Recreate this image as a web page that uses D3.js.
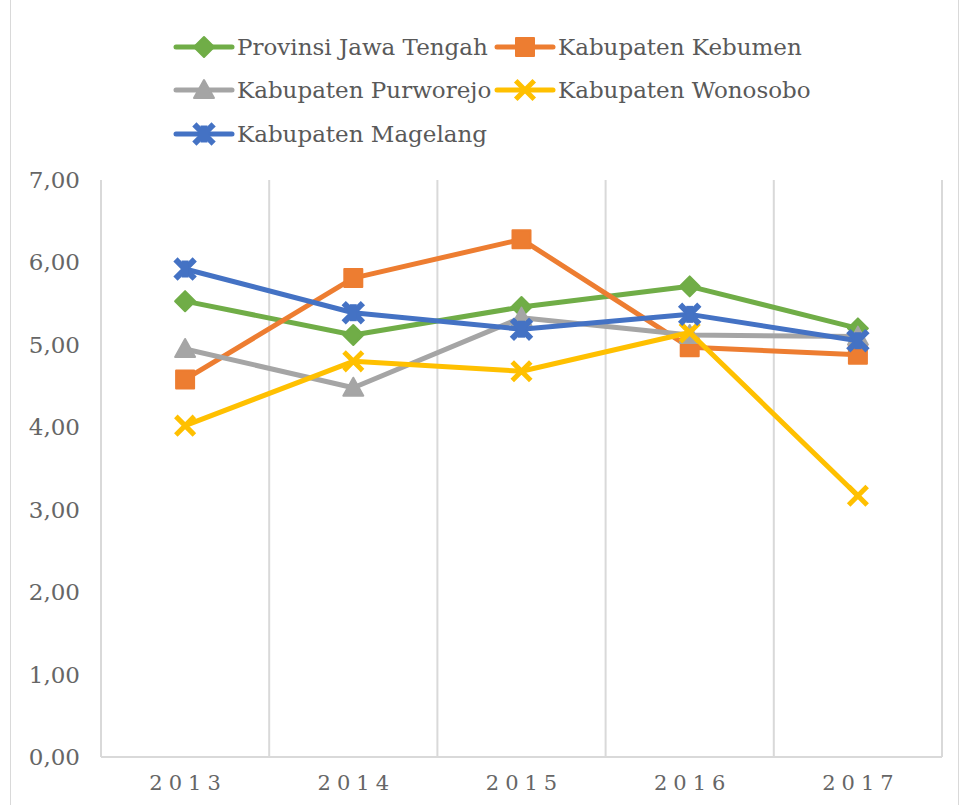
<!DOCTYPE html>
<html>
<head>
<meta charset="utf-8">
<script src="https://cdn.jsdelivr.net/npm/d3@7"></script>
<style>
  body { margin: 0; background: #fff; }
  text { font-family: "DejaVu Serif", serif; fill: #595959; }
</style>
</head>
<body>
<div id="chart"></div>
<script>
// Line chart: five regions 2013-2017 ////////////////////////////////////////

var years = ['2013', '2014', '2015', '2016', '2017'];
var seriesNames = ['Provinsi Jawa Tengah', 'Kabupaten Kebumen', 'Kabupaten Purworejo',
                   'Kabupaten Wonosobo', 'Kabupaten Magelang'];
var jawaTengah = [5.53, 5.12, 5.46, 5.71, 5.20];
var kebumen    = [4.58, 5.81, 6.28, 4.97, 4.88];
var purworejo  = [4.95, 4.48, 5.33, 5.12, 5.10];
var wonosobo   = [4.02, 4.80, 4.68, 5.15, 3.17];
var magelang   = [5.92, 5.39, 5.19, 5.37, 5.05];
var yTicks = [0, 1, 2, 3, 4, 5, 6, 7];

///////////////////////////////////////////////////////////////////////////////

var width = 963;
var height = 805;
var margin = {left: 101, right: 21, top: 180, bottom: 48};
var colors = ['#70AD47', '#ED7D31', '#A5A5A5', '#FFC000', '#4472C4'];
var markers = ['diamond', 'square', 'triangle', 'x', 'star'];

var series = [jawaTengah, kebumen, purworejo, wonosobo, magelang].map(function(v, i){
  return {name: seriesNames[i], values: v, color: colors[i], marker: markers[i]};
});

var svg = d3.select('#chart').append('svg')
  .attr('width', width)
  .attr('height', height);

// chart border
svg.append('rect')
  .attr('x', 10.5).attr('y', -2)
  .attr('width', 948).attr('height', height + 4)
  .style('fill', 'none')
  .style('stroke', '#d9d9d9');

var x = d3.scaleBand()
  .domain(years)
  .range([margin.left, width - margin.right]);

var y = d3.scaleLinear()
  .domain([0, 7])
  .range([height - margin.bottom, margin.top]);

///////////////////////////////////////////////////////////////////////////////

// vertical gridlines at category boundaries
var bounds = years.map(function(d){ return x(d); }).concat([x.range()[1]]);
svg.append('g').selectAll('line')
  .data(bounds)
  .enter().append('line')
  .attr('x1', function(d){ return d; })
  .attr('x2', function(d){ return d; })
  .attr('y1', y(7))
  .attr('y2', y(0))
  .style('stroke', '#d9d9d9')
  .style('stroke-width', 2);

// bottom axis line
svg.append('line')
  .attr('x1', x.range()[0]).attr('x2', x.range()[1])
  .attr('y1', y(0)).attr('y2', y(0))
  .style('stroke', '#d9d9d9')
  .style('stroke-width', 2);

// y tick labels
svg.append('g').selectAll('text')
  .data(yTicks)
  .enter().append('text')
  .attr('x', 80)
  .attr('y', function(d){ return y(d); })
  .attr('dy', '0.35em')
  .attr('text-anchor', 'end')
  .style('font-size', '23px')
  .style('fill', '#666')
  .text(function(d){ return d3.format('.2f')(d).replace('.', ','); });

// x tick labels
svg.append('g').selectAll('text')
  .data(years)
  .enter().append('text')
  .attr('x', function(d){ return x(d) + x.bandwidth() / 2 + 3; })
  .attr('y', 790)
  .attr('text-anchor', 'middle')
  .style('font-size', '21px')
  .style('letter-spacing', '6px')
  .style('fill', '#666')
  .text(function(d){ return d; });

///////////////////////////////////////////////////////////////////////////////

function markerPath(type, s) {
  var h = s / 2;
  if (type === 'diamond') return 'M0,' + (-h) + 'L' + h + ',0L0,' + h + 'L' + (-h) + ',0Z';
  if (type === 'square') return 'M' + (-h) + ',' + (-h) + 'h' + s + 'v' + s + 'h' + (-s) + 'Z';
  if (type === 'triangle') return 'M0,' + (-h) + 'L' + h + ',' + (h * 0.8) + 'L' + (-h) + ',' + (h * 0.8) + 'Z';
  return null;
}

function drawMarker(g, type, color, cx, cy) {
  var m = g.append('g').attr('transform', 'translate(' + cx + ',' + cy + ')');
  if (type === 'x' || type === 'star') {
    var h = 7.5;
    m.append('path')
      .attr('d', 'M' + (-h) + ',' + (-h) + 'L' + h + ',' + h + 'M' + h + ',' + (-h) + 'L' + (-h) + ',' + h)
      .style('stroke', color)
      .style('stroke-width', type === 'x' ? 5 : 6)
      .style('stroke-linecap', 'square')
      .style('fill', 'none');
    if (type === 'star') {
      m.append('path')
        .attr('d', 'M0,' + (-h - 1) + 'V' + (h + 1))
        .style('stroke', color)
        .style('stroke-width', 7)
        .style('fill', 'none');
    }
  } else {
    m.append('path')
      .attr('d', markerPath(type, type === 'square' ? 18 : 20))
      .style('fill', color)
      .style('stroke', color)
      .style('stroke-width', 2)
      .style('stroke-linejoin', 'round');
  }
}

var line = d3.line()
  .x(function(d, i){ return x(years[i]) + x.bandwidth() / 2; })
  .y(function(d){ return y(d); });

var plot = svg.append('g');

series.forEach(function(s){
  var g = plot.append('g');
  g.append('path')
    .datum(s.values)
    .attr('d', line)
    .style('fill', 'none')
    .style('stroke', s.color)
    .style('stroke-width', 5)
    .style('stroke-linejoin', 'round');
  s.values.forEach(function(v, i){
    drawMarker(g, s.marker, s.color, x(years[i]) + x.bandwidth() / 2, y(v));
  });
});

///////////////////////////////////////////////////////////////////////////////

// legend
var legendPos = [[176, 47], [497, 47], [176, 90], [497, 90], [176, 134]];
var legend = svg.append('g');

series.forEach(function(s, i){
  var lx = legendPos[i][0], ly = legendPos[i][1];
  var g = legend.append('g');
  g.append('line')
    .attr('x1', lx).attr('x2', lx + 56)
    .attr('y1', ly).attr('y2', ly)
    .style('stroke', s.color)
    .style('stroke-width', 5)
    .style('stroke-linecap', 'round');
  drawMarker(g, s.marker, s.color, lx + 28, ly);
  g.append('text')
    .attr('x', lx + 61)
    .attr('y', ly)
    .attr('dy', '0.35em')
    .style('font-size', '23px')
    .text(s.name);
});
</script>
</body>
</html>
